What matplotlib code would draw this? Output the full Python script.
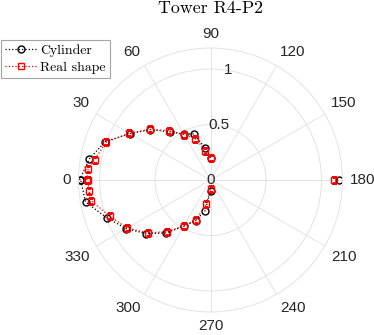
import numpy as np
import matplotlib
matplotlib.use("Agg")
import matplotlib.pyplot as plt
from matplotlib.transforms import offset_copy

# ---- data (theta in degrees, r normalised) ----
theta_cyl = [0, 10, 20, 30, 40, 50, 60, 70, 80, 90, 170, 180, 190,
             270, 280, 290, 300, 310, 320, 330, 340, 350, 360]
r_cyl = [1.18, 1.108, 1.01, 0.838, 0.707, 0.566, 0.478, 0.442, 0.296, 0.20,
         np.nan, 1.16, np.nan,
         0.10, 0.28, 0.39, 0.482, 0.621, 0.754, 0.877, 0.995, 1.144, 1.17]

theta_real = [0, 5, 10, 20, 30, 40, 50, 60, 70, 80, 90, 170, 180, 190,
              270, 280, 290, 300, 310, 320, 330, 340, 350, 355, 360]
r_real = [1.115, 1.108, 1.06, 1.0, 0.844, 0.711, 0.579, 0.471, 0.398, 0.269, 0.194,
          np.nan, 1.115, np.nan,
          0.084, 0.22, 0.38, 0.476, 0.608, 0.741, 0.867, 0.962, 1.09, 1.10, 1.105]

theta_ticks = list(range(0, 360, 30))
r_ticks = [0, 0.5, 1]
r_tick_labels = ["0", "0.5", "1"]
r_max = 1.19
r_label_angle = 99
title = "Tower R4-P2"
labels = ["Cylinder", "Real shape"]

W, H = 374, 335
fig = plt.figure(figsize=(W / 100, H / 100), dpi=100)
cx, cy, R = 210.5, 180.0, 132.0
ax = fig.add_axes([(cx - R) / W, (H - cy - R) / H, 2 * R / W, 2 * R / H],
                  projection="polar")
ax.set_theta_zero_location("W")
ax.set_theta_direction(-1)

gcol = "#e3e3e3"
tcol = "#262626"
ax.plot(np.deg2rad(theta_cyl), r_cyl, linestyle=":", color="black", lw=0.9,
        marker="o", ms=5.0, mfc="none", mec="black", mew=1.0, label=labels[0])
ax.plot(np.deg2rad(theta_real), r_real, linestyle=":", color="red", lw=0.9,
        marker="s", ms=4.4, mfc="none", mec="red", mew=1.0, label=labels[1])

ax.set_ylim(0, r_max)
ax.set_xticks(np.deg2rad(theta_ticks))
ax.set_xticklabels([])
ax.set_yticks(r_ticks)
ax.set_yticklabels([])

# theta labels placed outside the outer ring, MATLAB style
gap = 7.5
for t in theta_ticks:
    phi = np.deg2rad(180 - t)  # screen angle for zero=W, clockwise
    c, s = np.cos(phi), np.sin(phi)
    ha = "left" if c > 0.1 else ("right" if c < -0.1 else "center")
    va = "bottom" if s > 0.1 else ("top" if s < -0.1 else "center")
    tr = offset_copy(ax.transData, fig=fig, x=gap * c, y=gap * s, units="dots")
    ax.text(np.deg2rad(t), r_max, str(t), transform=tr, ha=ha, va=va,
            fontfamily="Liberation Sans", fontsize=11, color=tcol, clip_on=False)

for v, s in zip(r_ticks, r_tick_labels):
    ax.text(np.deg2rad(r_label_angle), v, s, ha="center", va="center",
            fontfamily="Liberation Sans", fontsize=11, color=tcol, zorder=3)

ax.grid(True, color=gcol, lw=0.7)
ax.spines["polar"].set_color(gcol)
ax.spines["polar"].set_linewidth(0.7)

fig.text(cx / W, 1 - 8 / H, title, ha="center", va="center",
         fontfamily="cmr10", fontsize=12.9)

leg = fig.legend(loc="upper left", bbox_to_anchor=(1 / W, 1 - 40 / H),
                 prop={"family": "cmr10", "size": 9.9}, frameon=True,
                 fancybox=False, edgecolor="#8c8c8c", handlelength=2.3,
                 handletextpad=0.25, borderpad=0.3, labelspacing=0.3,
                 borderaxespad=0)
leg.get_frame().set_linewidth(0.8)

fig.savefig("out.png", dpi=100)
